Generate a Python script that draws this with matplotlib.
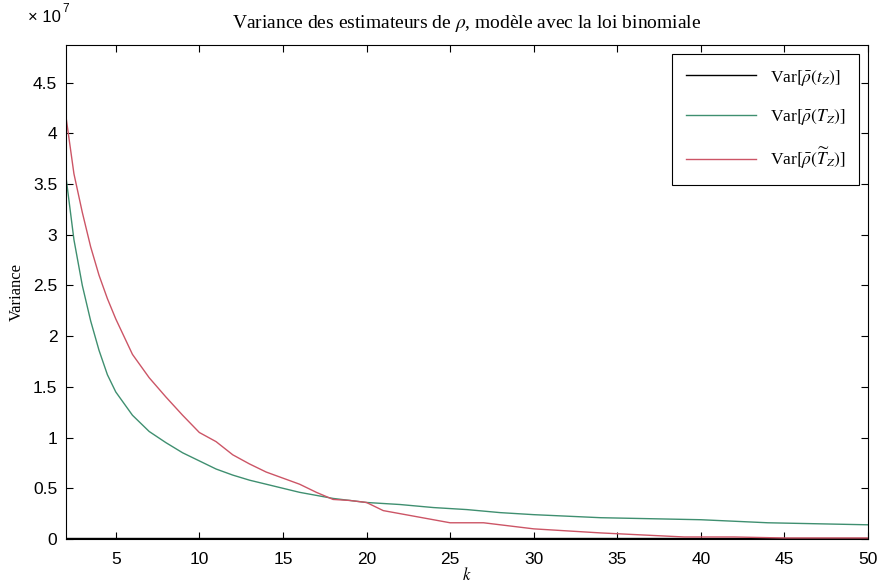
import numpy as np
import matplotlib
matplotlib.use("Agg")
import matplotlib.pyplot as plt
from matplotlib.ticker import FuncFormatter

plt.rcParams["mathtext.fontset"] = "stix"

# values (variance in units of 1e7)
k_tz = [2, 10, 20, 30, 40, 50]
var_tz = [0.01, 0.01, 0.01, 0.01, 0.01, 0.01]

k_Tz = [2, 2.5, 3, 3.5, 4, 4.5, 5, 6, 7, 8, 9, 10, 11, 12, 13, 14, 15, 16, 17,
        18, 19, 20, 22, 24, 26, 28, 30, 34, 40, 44, 50]
var_Tz = [3.6, 2.95, 2.5, 2.15, 1.86, 1.62, 1.45, 1.22, 1.06, 0.95, 0.85, 0.77,
          0.69, 0.63, 0.58, 0.54, 0.50, 0.46, 0.43, 0.40, 0.38, 0.36, 0.34,
          0.31, 0.29, 0.26, 0.24, 0.21, 0.19, 0.16, 0.14]

k_Tz_tilde = [2, 2.5, 3, 3.5, 4, 4.5, 5, 6, 7, 8, 9, 10, 11, 12, 13, 14, 15, 16,
              17, 18, 19, 20, 21, 22, 23, 24, 25, 27, 28, 30, 34, 39, 42, 45, 50]
var_Tz_tilde = [4.19, 3.6, 3.22, 2.88, 2.6, 2.37, 2.17, 1.82, 1.59, 1.4, 1.22,
                1.05, 0.96, 0.83, 0.74, 0.66, 0.60, 0.54, 0.46, 0.39, 0.38, 0.36,
                0.28, 0.25, 0.22, 0.19, 0.16, 0.16, 0.14, 0.10, 0.06, 0.02, 0.02,
                0.01, 0.01]

fig = plt.figure(figsize=(8.78, 5.86), dpi=100)
ax = fig.add_axes([0.0747, 0.0802, 0.914, 0.843])

ax.plot(k_tz, np.array(var_tz) * 1e7, color="black", lw=1.0,
        label=r"Var$[\bar{\rho}(t_Z)]$")
ax.plot(k_Tz, np.array(var_Tz) * 1e7, color="#3f8f70", lw=1.0,
        label=r"Var$[\bar{\rho}(T_Z)]$")
ax.plot(k_Tz_tilde, np.array(var_Tz_tilde) * 1e7, color="#cc5566", lw=1.0,
        label=r"Var$[\bar{\rho}(\widetilde{T}_Z)]$")

ax.set_xlim(2, 50)
ax.set_ylim(0, 4.87e7)
ax.set_xticks(np.arange(5, 51, 5))
ax.set_yticks(np.arange(0, 4.6e7, 0.5e7))
ax.yaxis.set_major_formatter(FuncFormatter(lambda v, pos: "%g" % (v / 1e7)))

ax.tick_params(direction="in", top=True, right=True, labelsize=12.5, length=5)
ax.tick_params(axis="x", pad=9)
ax.tick_params(axis="y", pad=6)
for lbl in ax.get_xticklabels() + ax.get_yticklabels():
    lbl.set_family("Liberation Sans")

# MATLAB style exponent label above the y axis
fig.text(0.032, 0.962, "× 10", family="Liberation Sans", fontsize=12, va="baseline")
fig.text(0.071, 0.979, "7", family="Liberation Sans", fontsize=8.5, va="baseline")

ax.set_title(r"Variance des estimateurs de $\rho$, modèle avec la loi binomiale",
             family="Liberation Serif", fontsize=14, pad=12)
ax.set_ylabel("Variance", family="Liberation Serif", fontsize=12, labelpad=6)
ax.set_xlabel(r"$k$", fontsize=12)
ax.xaxis.set_label_coords(0.5, -0.055)

leg = ax.legend(loc="upper right", fancybox=False, edgecolor="black",
                handlelength=4, labelspacing=1.1, borderpad=0.8, framealpha=1,
                prop={"family": "Liberation Serif", "size": 12.5})
leg.get_frame().set_linewidth(0.8)

plt.savefig("out.png", dpi=100)
